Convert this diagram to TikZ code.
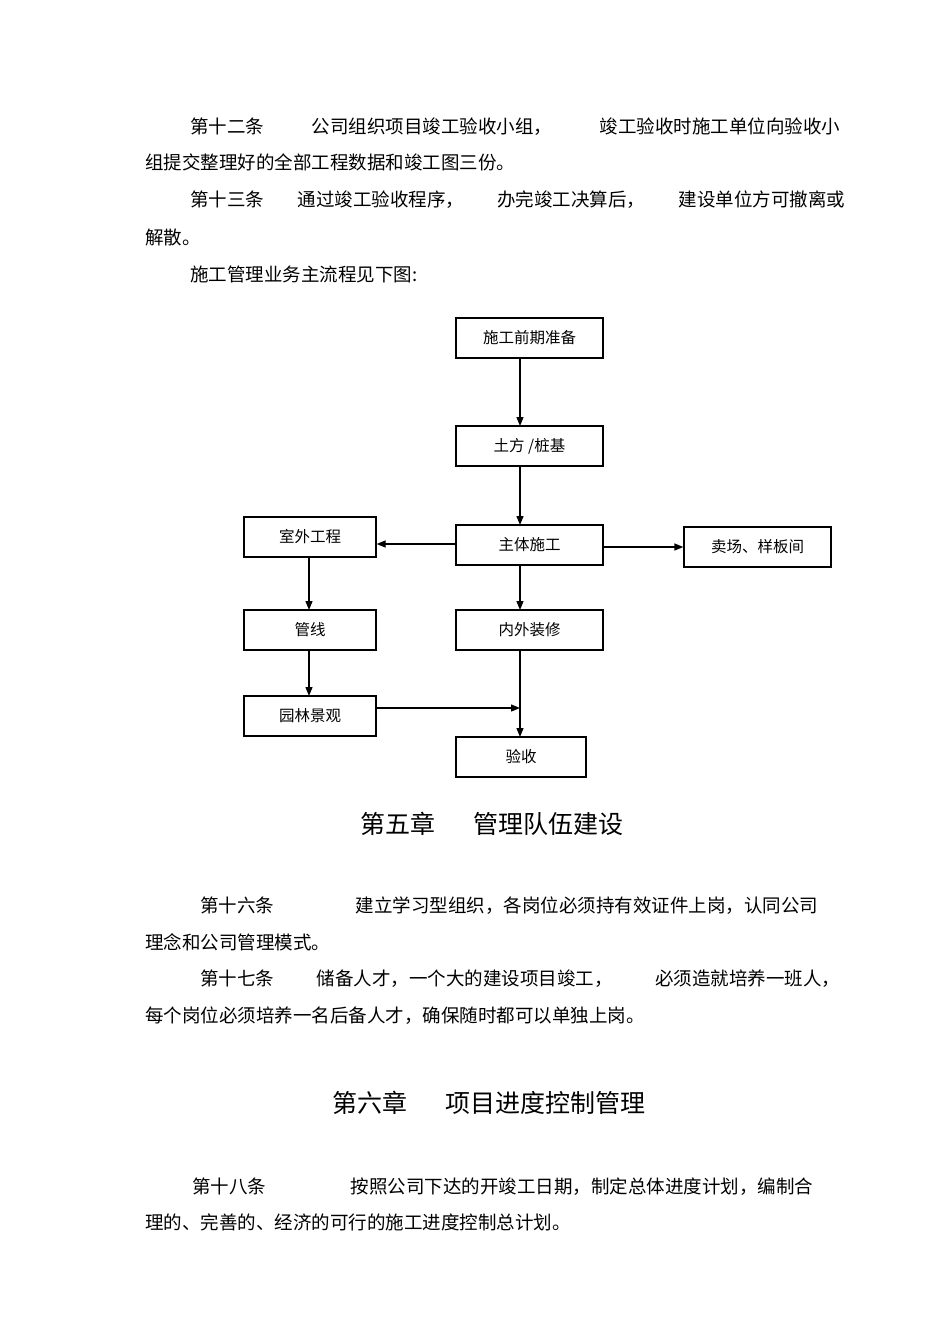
\documentclass[tikz,border=0pt]{standalone}
\usepackage{fontspec}
\setmainfont{Noto Sans CJK SC}
\usetikzlibrary{arrows.meta}
\begin{document}
\begin{tikzpicture}[x=1pt,y=-1pt,
  txt/.style={anchor=west,inner sep=0pt,font=\fontsize{18.5}{20}\selectfont},
  hd/.style={inner sep=0pt,font=\fontsize{25}{28}\selectfont},
  bx/.style={draw,line width=1.3pt,minimum height=40pt,inner sep=0pt,font=\fontsize{15.5}{17}\selectfont},
  ar/.style={line width=1.3pt,-{Triangle[length=9pt,width=7pt]}}]
\useasboundingbox[fill=white] (0,0) rectangle (950,1344);
\node[txt] (l1) at (190,127) {\hbox to 650pt{第十二条\hfil 公司组织项目竣工验收小组，\hfil 竣工验收时施工单位向验收小}};
\node[txt] (l2) at (145,162) {组提交整理好的全部工程数据和竣工图三份。};
\node[txt] (l3) at (190,200) {\hbox to 655pt{第十三条\hfil 通过竣工验收程序，\hfil 办完竣工决算后，\hfil 建设单位方可撤离或}};
\node[txt] (l4) at (145,237) {解散。};
\node[txt] (l5) at (190,274) {施工管理业务主流程见下图:};
\node[bx,minimum width=147pt] (a) at (529.5,338) {施工前期准备};
\node[bx,minimum width=147pt] (b) at (529.5,446) {土方 /桩基};
\node[bx,minimum width=147pt] (c) at (529.5,545) {主体施工};
\node[bx,minimum width=132pt] (d) at (310,537) {室外工程};
\node[bx,minimum width=147pt] (e) at (757.5,547) {卖场、样板间};
\node[bx,minimum width=132pt] (f) at (310,630) {管线};
\node[bx,minimum width=147pt] (g) at (529.5,630) {内外装修};
\node[bx,minimum width=132pt] (h) at (310,716) {园林景观};
\node[bx,minimum width=130pt] (i) at (521,757) {验收};
\coordinate (j) at (520,708);
\draw[ar] (520,358) -- (520,426);
\draw[ar] (520,466) -- (520,525);
\draw[ar] (c.west |- 0,544) -- (d.east |- 0,544);
\draw[ar] (c.east |- 0,547) -- (e.west |- 0,547);
\draw[ar] (309,557) -- (309,610);
\draw[ar] (309,650) -- (309,696);
\draw[ar] (520,565) -- (520,610);
\draw[ar] (520,650) -- (520,737);
\draw[ar] (h.east |- j) -- (j);
\node[hd] (h1) at (492,824) {第五章\hspace{1.5em}管理队伍建设};
\node[txt] (m1) at (200,906) {\hbox to 618pt{第十六条\hfil 建立学习型组织，各岗位必须持有效证件上岗，认同公司}};
\node[txt] (m2) at (145,942) {理念和公司管理模式。};
\node[txt] (m3) at (200,979) {\hbox to 640pt{第十七条\hfil 储备人才，一个大的建设项目竣工，\hfil 必须造就培养一班人，}};
\node[txt] (m4) at (145,1016) {每个岗位必须培养一名后备人才，确保随时都可以单独上岗。};
\node[hd] (h2) at (489,1103) {第六章\hspace{1.5em}项目进度控制管理};
\node[txt] (n1) at (192,1187) {\hbox to 621pt{第十八条\hfil 按照公司下达的开竣工日期，制定总体进度计划，编制合}};
\node[txt] (n2) at (145,1222) {理的、完善的、经济的可行的施工进度控制总计划。};
\end{tikzpicture}
\end{document}
